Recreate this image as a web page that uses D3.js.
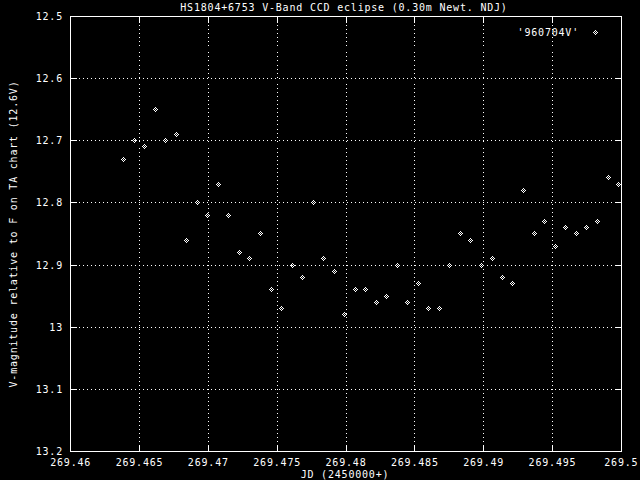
<!DOCTYPE html>
<html>
<head>
<meta charset="utf-8">
<script src="https://cdn.jsdelivr.net/npm/d3@7"></script>
<style>
  html, body { margin: 0; padding: 0; background: #000; }
  svg { display: block; }
  text { font-family: "DejaVu Sans Mono", "Liberation Mono", monospace; font-size: 10px; letter-spacing: 0.8px; fill: #fff; }
</style>
</head>
<body>
<svg id="chart" width="640" height="480"></svg>
<script>
// ---- data ----
const titleText = "HS1804+6753 V-Band CCD eclipse (0.30m Newt. NDJ)";
const xLabel = "JD (2450000+)";
const yLabel = "V-magnitude relative to F on TA chart (12.6V)";
const seriesName = "'960704V'";

const jd = [
  269.46381, 269.46461, 269.46534, 269.46614, 269.46686, 269.46766, 269.46839, 269.46919,
  269.46992, 269.47072, 269.47144, 269.47224, 269.47297, 269.47377, 269.47457, 269.47530,
  269.47610, 269.47683, 269.47762, 269.47835, 269.47915, 269.47988, 269.48068, 269.48141,
  269.48221, 269.48293, 269.48373, 269.48446, 269.48526, 269.48599, 269.48679, 269.48751,
  269.48831, 269.48904, 269.48984, 269.49064, 269.49137, 269.49210, 269.49290, 269.49370,
  269.49442, 269.49522, 269.49595, 269.49675, 269.49748, 269.49828, 269.49908, 269.49980
];
const vmag = [
  12.73, 12.70, 12.71, 12.65, 12.70, 12.69, 12.86, 12.80,
  12.82, 12.77, 12.82, 12.88, 12.89, 12.85, 12.94, 12.97,
  12.90, 12.92, 12.80, 12.89, 12.91, 12.98, 12.94, 12.94,
  12.96, 12.95, 12.90, 12.96, 12.93, 12.97, 12.97, 12.90,
  12.85, 12.86, 12.90, 12.89, 12.92, 12.93, 12.78, 12.85,
  12.83, 12.87, 12.84, 12.85, 12.84, 12.83, 12.76, 12.77
];
const xTicks = [269.46, 269.465, 269.47, 269.475, 269.48, 269.485, 269.49, 269.495, 269.5];
const yTicks = [12.5, 12.6, 12.7, 12.8, 12.9, 13.0, 13.1, 13.2];
const xDomain = [269.46, 269.5];
const yDomain = [12.5, 13.2];

// ---- drawing ----
const svg = d3.select("#chart");
svg.append("rect").attr("width", 640).attr("height", 480).attr("fill", "#000");

const x = d3.scaleLinear().domain(xDomain).range([70.67, 621.33]);
const y = d3.scaleLinear().domain(yDomain).range([16.3, 451.6]);
const px = v => Math.floor(x(v)) + 0.5;
const py = v => Math.floor(y(v)) + 0.5;
const fmt = d => String(+d.toFixed(4));

const pLeft = px(xDomain[0]), pRight = px(xDomain[1]);
const pTop = py(yDomain[0]), pBottom = py(yDomain[1]);

// grid (dotted)
const grid = svg.append("g").attr("stroke", "#fff").attr("stroke-width", 1)
  .attr("stroke-dasharray", "1,3").attr("shape-rendering", "crispEdges");
grid.selectAll("line.vx").data(xTicks.slice(1, -1)).join("line")
  .attr("x1", d => px(d)).attr("x2", d => px(d)).attr("y1", pTop).attr("y2", pBottom);
grid.selectAll("line.hy").data(yTicks.slice(1, -1)).join("line")
  .attr("x1", pLeft).attr("x2", pRight).attr("y1", d => py(d)).attr("y2", d => py(d));

// ticks (inward, on all sides)
const tl = 6;
const ticks = svg.append("g").attr("stroke", "#fff").attr("stroke-width", 1).attr("shape-rendering", "crispEdges");
xTicks.forEach(d => {
  ticks.append("line").attr("x1", px(d)).attr("x2", px(d)).attr("y1", pBottom).attr("y2", pBottom - tl);
  ticks.append("line").attr("x1", px(d)).attr("x2", px(d)).attr("y1", pTop).attr("y2", pTop + tl);
});
yTicks.forEach(d => {
  ticks.append("line").attr("x1", pLeft).attr("x2", pLeft + tl).attr("y1", py(d)).attr("y2", py(d));
  ticks.append("line").attr("x1", pRight).attr("x2", pRight - tl).attr("y1", py(d)).attr("y2", py(d));
});

// border
svg.append("rect").attr("x", pLeft).attr("y", pTop).attr("width", pRight - pLeft).attr("height", pBottom - pTop)
  .attr("fill", "none").attr("stroke", "#fff").attr("stroke-width", 1).attr("shape-rendering", "crispEdges");

// tick labels
svg.append("g").selectAll("text").data(xTicks).join("text")
  .attr("x", d => x(d)).attr("y", 466).attr("text-anchor", "middle").text(fmt);
svg.append("g").selectAll("text").data(yTicks).join("text")
  .attr("x", 63).attr("y", d => y(d) + 3.6).attr("text-anchor", "end").text(fmt);

// titles
svg.append("text").attr("x", 344).attr("y", 10.5).attr("text-anchor", "middle").text(titleText);
svg.append("text").attr("x", 345).attr("y", 477.5).attr("text-anchor", "middle").text(xLabel);
svg.append("text").attr("transform", "translate(17,234) rotate(-90)").attr("text-anchor", "middle").text(yLabel);

// point glyph: checkered diamond of 1px squares
const offs = [[0,0],[1,1],[1,-1],[-1,1],[-1,-1],[2,0],[-2,0],[0,2],[0,-2]];
const glyph = (cx, cy) => offs.map(([dx, dy]) => `M${cx + dx},${cy + dy}h1v1h-1z`).join("");

const pts = jd.map((d, i) => ({ jd: d, v: vmag[i] }));
svg.append("g").selectAll("path").data(pts).join("path")
  .attr("d", d => glyph(Math.floor(x(d.jd)), Math.floor(y(d.v))))
  .attr("fill", "#fff").attr("shape-rendering", "crispEdges");

// legend
svg.append("text").attr("x", 579).attr("y", 36).attr("text-anchor", "end").text(seriesName);
svg.append("path").attr("d", glyph(595, 32)).attr("fill", "#fff").attr("shape-rendering", "crispEdges");
</script>
</body>
</html>
